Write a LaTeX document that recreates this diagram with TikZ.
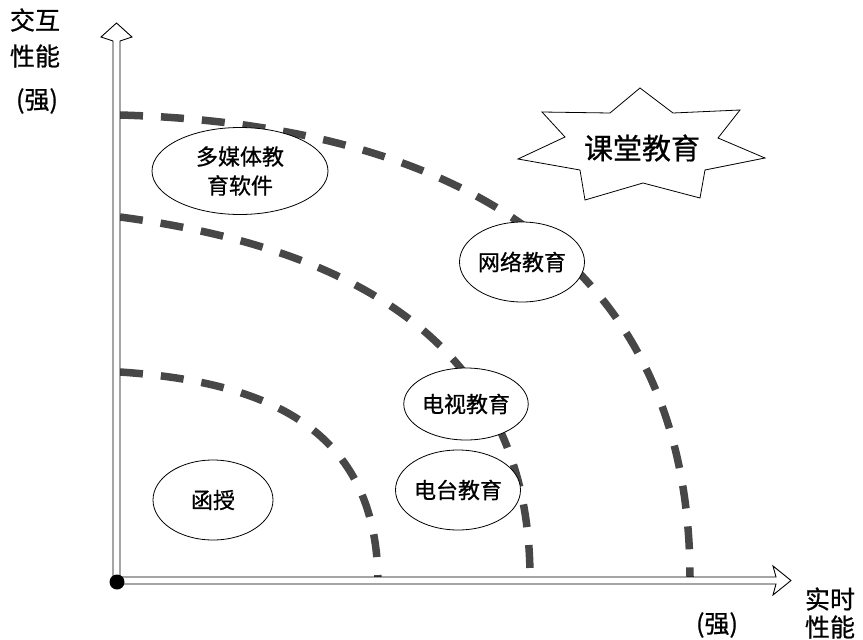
\documentclass[tikz,border=0pt]{standalone}
\usepackage{fontspec}
\newfontfamily\cjk[FakeBold=0.8]{Noto Sans CJK SC}
\usetikzlibrary{shapes.geometric}
\tikzset{
  band/.style={line width=7.5pt, black!72, dash pattern=on 23pt off 18pt},
  oval/.style={ellipse, draw=black, line width=0.8pt, fill=white, inner sep=0pt,
               font=\cjk\fontsize{22}{29}\selectfont, align=center},
  lab/.style={font=\cjk\fontsize{25}{28}\selectfont, inner sep=0pt},
  axisline/.style={draw=black, line width=0.9pt, fill=white, line join=miter}
}
\begin{document}
\begin{tikzpicture}[x=1pt,y=-1pt]
\useasboundingbox (0,0) rectangle (863,640);
% dashed bands
\draw[band] (120,115) .. controls (470,125) and (690,270) .. (690,578);
\draw[band] (120,217) .. controls (330,245) and (530,330) .. (530,578);
\draw[band] (120,372) .. controls (270,382) and (375,430) .. (378,578);
% axes
\path[axisline] (113,583) -- (113,41) -- (101,37) -- (116.5,23) -- (132,37) -- (120,41) -- (120,583);
\path[axisline] (117,577) -- (776,577) -- (773,566) -- (791,580.5) -- (773,595) -- (776,584) -- (117,584);
\fill (117,582) circle (7.5);
% ellipses
\node[oval, minimum width=176pt, minimum height=87pt] (mm) at (240,171) {多媒体教\\育软件};
\node[oval, minimum width=125pt, minimum height=80pt] (wl) at (522,262) {网络教育};
\node[oval, minimum width=122pt, minimum height=72pt] (ds) at (466,404) {电视教育};
\node[oval, minimum width=125pt, minimum height=80pt] (dt) at (458,490) {电台教育};
\node[oval, minimum width=120pt, minimum height=80pt] (hs) at (213,500) {函授};
% star
\draw[line width=0.8pt, fill=white, line join=miter]
  (640,88) -- (673,113) -- (740,110) -- (718,138) -- (765,158) -- (705,170) --
  (700,198) -- (643,183) -- (585,200) -- (580,170) -- (518,159) -- (565,137) --
  (542,112) -- (610,113) -- cycle;
\node[lab, font=\cjk\fontsize{29}{30}\selectfont] (kt) at (642,148) {课堂教育};
% axis labels
\node[lab] (y1) at (35,20) {交互};
\node[lab] (y2) at (35,56) {性能};
\node[lab] (y3) at (37,101) {(强)};
\node[lab] (x1) at (830,599) {实时};
\node[lab] (x2) at (830,627) {性能};
\node[lab] (x3) at (717,625) {(强)};
\end{tikzpicture}
\end{document}
